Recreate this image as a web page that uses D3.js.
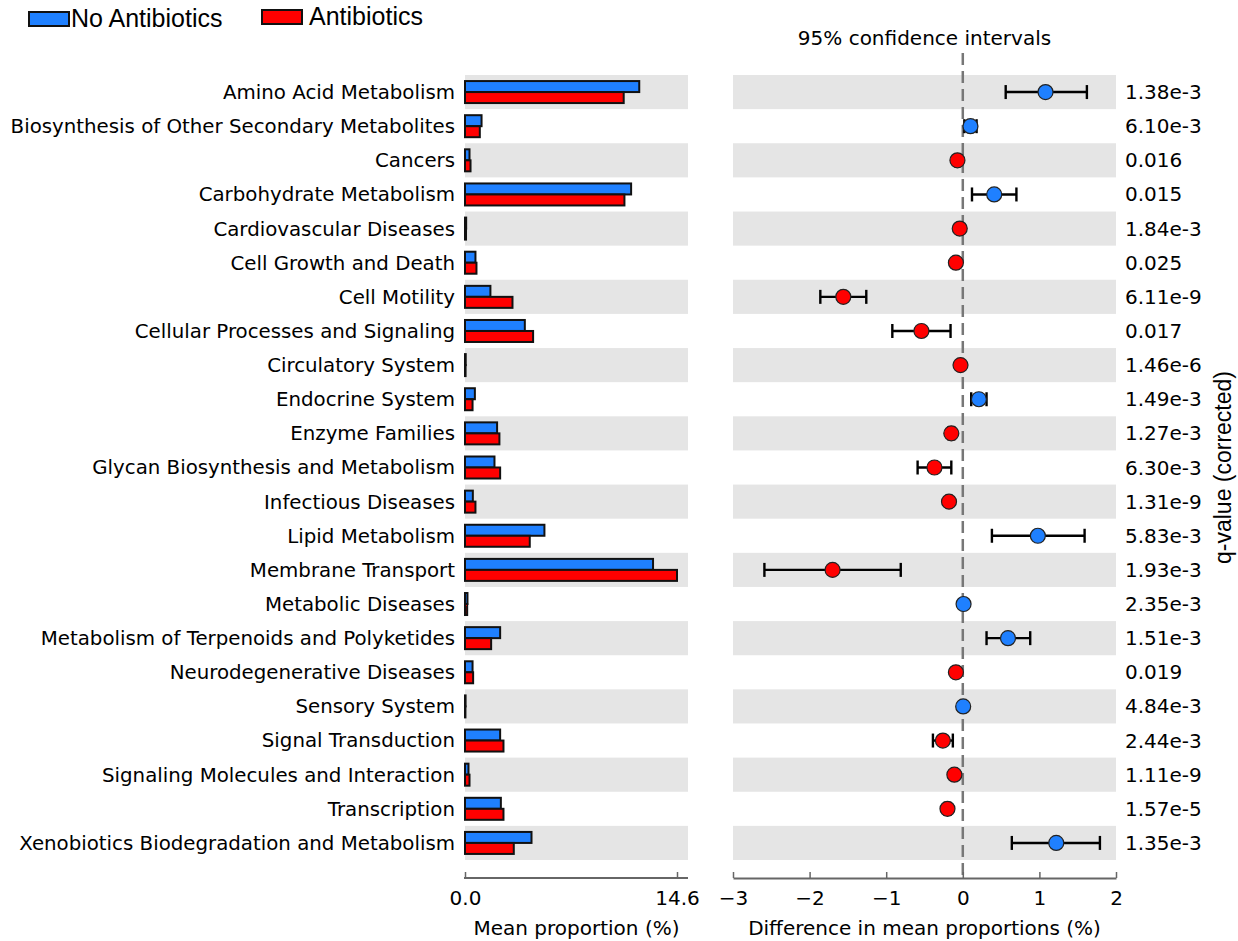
<!DOCTYPE html>
<html>
<head>
<meta charset="utf-8">
<script src="https://cdn.jsdelivr.net/npm/d3@7"></script>
<style>
  body { margin: 0; background: #fff; }
  svg text { font-family: "DejaVu Sans", sans-serif; fill: #000; }
</style>
</head>
<body>
<div class="chart-area"></div>
<script>
const categories = [
  "Amino Acid Metabolism", "Biosynthesis of Other Secondary Metabolites", "Cancers",
  "Carbohydrate Metabolism", "Cardiovascular Diseases", "Cell Growth and Death",
  "Cell Motility", "Cellular Processes and Signaling", "Circulatory System",
  "Endocrine System", "Enzyme Families", "Glycan Biosynthesis and Metabolism",
  "Infectious Diseases", "Lipid Metabolism", "Membrane Transport", "Metabolic Diseases",
  "Metabolism of Terpenoids and Polyketides", "Neurodegenerative Diseases", "Sensory System",
  "Signal Transduction", "Signaling Molecules and Interaction", "Transcription",
  "Xenobiotics Biodegradation and Metabolism"
];
const noAntibiotics = [12.0, 1.14, 0.31, 11.44, 0.08, 0.72, 1.75, 4.12, 0.05, 0.68, 2.21, 2.03,
  0.54, 5.47, 12.95, 0.17, 2.42, 0.52, 0.04, 2.42, 0.24, 2.47, 4.58];
const antibiotics = [10.93, 1.02, 0.38, 10.98, 0.07, 0.79, 3.27, 4.69, 0.04, 0.52, 2.37, 2.42,
  0.72, 4.46, 14.6, 0.15, 1.80, 0.56, 0.03, 2.65, 0.31, 2.65, 3.36];
const diffMean = [1.08, 0.10, -0.07, 0.41, -0.04, -0.09, -1.56, -0.54, -0.03, 0.21, -0.15, -0.37,
  -0.18, 0.98, -1.70, 0.01, 0.59, -0.09, 0.005, -0.26, -0.11, -0.20, 1.22];
const ciLow = [0.56, 0.02, -0.10, 0.12, -0.06, -0.12, -1.86, -0.92, -0.05, 0.11, -0.19, -0.59,
  -0.21, 0.38, -2.59, -0.01, 0.31, -0.12, -0.01, -0.39, -0.14, -0.24, 0.64];
const ciHigh = [1.62, 0.18, -0.04, 0.70, -0.02, -0.06, -1.26, -0.16, -0.01, 0.31, -0.11, -0.15,
  -0.15, 1.59, -0.81, 0.03, 0.88, -0.06, 0.02, -0.13, -0.08, -0.16, 1.79];
const qValues = ["1.38e-3", "6.10e-3", "0.016", "0.015", "1.84e-3", "0.025", "6.11e-9", "0.017",
  "1.46e-6", "1.49e-3", "1.27e-3", "6.30e-3", "1.31e-9", "5.83e-3", "1.93e-3", "2.35e-3",
  "1.51e-3", "0.019", "4.84e-3", "2.44e-3", "1.11e-9", "1.57e-5", "1.35e-3"];
const groups = ["No Antibiotics", "Antibiotics"];
const barTicks = [0, 14.6];
const diffTicks = [-3, -2, -1, 0, 1, 2];

const width = 1238, height = 941;
const blue = "#1f80ff", red = "#ff0000", band = "#e5e5e5", axisColor = "#666";
const plotTop = 75, plotBottom = 860, axisY = 878;
const fs = 20;

const svg = d3.select(".chart-area").append("svg")
  .attr("width", width).attr("height", height);

const y = d3.scaleBand().domain(categories).range([plotTop, plotBottom]);
const xBar = d3.scaleLinear().domain([0, 14.6]).range([465, 677]);
const barLeft = 465, barRight = 688;
const xDiff = d3.scaleLinear().domain([-3, 2]).range([733, 1116]);

const rows = categories.map((c, i) => ({
  name: c, a: noAntibiotics[i], b: antibiotics[i], d: diffMean[i],
  lo: ciLow[i], hi: ciHigh[i], q: qValues[i], i
}));
const mid = d => y(d.name) + y.bandwidth() / 2;

// background bands
svg.append("g").selectAll("rect")
  .data(rows.filter(r => r.i % 2 === 0))
  .join("rect")
  .attr("x", barLeft).attr("y", d => y(d.name))
  .attr("width", barRight - barLeft).attr("height", y.bandwidth())
  .attr("fill", band);
svg.append("g").selectAll("rect")
  .data(rows.filter(r => r.i % 2 === 0))
  .join("rect")
  .attr("x", xDiff(-3)).attr("y", d => y(d.name))
  .attr("width", xDiff(2) - xDiff(-3)).attr("height", y.bandwidth())
  .attr("fill", band);

// category labels
svg.append("g").selectAll("text")
  .data(rows).join("text")
  .attr("x", 455).attr("y", mid)
  .attr("dy", "0.35em").attr("text-anchor", "end")
  .attr("font-size", 19.8).text(d => d.name);

// bars
const barH = 11;
const bars = svg.append("g").attr("stroke", "#111").attr("stroke-width", 2);
bars.selectAll("rect.na").data(rows).join("rect").attr("class", "na")
  .attr("x", xBar(0)).attr("y", d => mid(d) - barH)
  .attr("width", d => xBar(d.a) - xBar(0)).attr("height", barH)
  .attr("fill", blue);
bars.selectAll("rect.ab").data(rows).join("rect").attr("class", "ab")
  .attr("x", xBar(0)).attr("y", d => mid(d))
  .attr("width", d => xBar(d.b) - xBar(0)).attr("height", barH)
  .attr("fill", red);

// zero dashed line
svg.append("line")
  .attr("x1", xDiff(0)).attr("x2", xDiff(0))
  .attr("y1", 53).attr("y2", axisY)
  .attr("stroke", "#777").attr("stroke-width", 2.5)
  .attr("stroke-dasharray", "12,6");

// confidence intervals
const ci = svg.append("g").attr("stroke", "#000").attr("stroke-width", 2.4);
ci.selectAll("line.ci").data(rows).join("line").attr("class", "ci")
  .attr("x1", d => xDiff(d.lo)).attr("x2", d => xDiff(d.hi))
  .attr("y1", mid).attr("y2", mid);
["lo", "hi"].forEach(k => {
  ci.selectAll("line.cap-" + k).data(rows).join("line").attr("class", "cap-" + k)
    .attr("x1", d => xDiff(d[k])).attr("x2", d => xDiff(d[k]))
    .attr("y1", d => mid(d) - 7)
    .attr("y2", d => mid(d) + 7);
});
svg.append("g").selectAll("circle").data(rows).join("circle")
  .attr("cx", d => xDiff(d.d)).attr("cy", mid)
  .attr("r", 7.5)
  .attr("fill", d => d.d >= 0 ? blue : red)
  .attr("stroke", "#222").attr("stroke-width", 1.2);

// q-values
svg.append("g").selectAll("text").data(rows).join("text")
  .attr("x", 1125).attr("y", mid)
  .attr("dy", "0.35em").attr("font-size", fs).text(d => d.q);

svg.append("text")
  .attr("transform", `translate(1223,${(plotTop + plotBottom) / 2}) rotate(-90)`)
  .attr("text-anchor", "middle").attr("dy", "0.35em")
  .style("font-family", "'Liberation Sans', Arial, sans-serif")
  .attr("font-size", 23).text("q-value (corrected)");

// axes
const gBar = svg.append("g").attr("transform", `translate(0,${axisY})`)
  .call(d3.axisBottom(xBar).tickValues(barTicks).tickFormat(d3.format(".1f"))
    .tickSizeInner(-6).tickSizeOuter(0).tickPadding(13));
gBar.select(".domain").remove();
gBar.append("line").attr("x1", barLeft - 1).attr("x2", barRight)
  .attr("stroke", axisColor).attr("stroke-width", 2);

const gDiff = svg.append("g").attr("transform", `translate(0,${axisY})`)
  .call(d3.axisBottom(xDiff).tickValues(diffTicks).tickFormat(d3.format("d"))
    .tickSizeInner(-6).tickSizeOuter(0).tickPadding(13));
gDiff.select(".domain").attr("stroke", axisColor).attr("stroke-width", 2);

[gBar, gDiff].forEach(g => {
  g.selectAll(".tick line").attr("stroke", axisColor).attr("stroke-width", 1.5);
  g.selectAll(".tick text").attr("font-size", fs).attr("font-family", null).attr("fill", "#000");
});

svg.append("text").attr("x", (barLeft + barRight) / 2).attr("y", 935)
  .attr("text-anchor", "middle").attr("font-size", fs).text("Mean proportion (%)");
svg.append("text").attr("x", (xDiff(-3) + xDiff(2)) / 2).attr("y", 935)
  .attr("text-anchor", "middle").attr("font-size", fs).text("Difference in mean proportions (%)");
svg.append("text").attr("x", (xDiff(-3) + xDiff(2)) / 2).attr("y", 45)
  .attr("text-anchor", "middle").attr("font-size", fs).text("95% confidence intervals");

// legend
const legend = svg.append("g");
const legendPos = [{ x: 29, y: 12, tx: 71, ty: 27 }, { x: 262, y: 10, tx: 309, ty: 25 }];
groups.forEach((g, i) => {
  const p = legendPos[i];
  legend.append("rect").attr("x", p.x).attr("y", p.y).attr("width", 40).attr("height", 14)
    .attr("fill", i === 0 ? blue : red).attr("stroke", "#111").attr("stroke-width", 2);
  legend.append("text").attr("x", p.tx).attr("y", p.ty).attr("font-size", 25)
    .style("font-family", "'Liberation Sans', Arial, sans-serif").text(g);
});
</script>
</body>
</html>
